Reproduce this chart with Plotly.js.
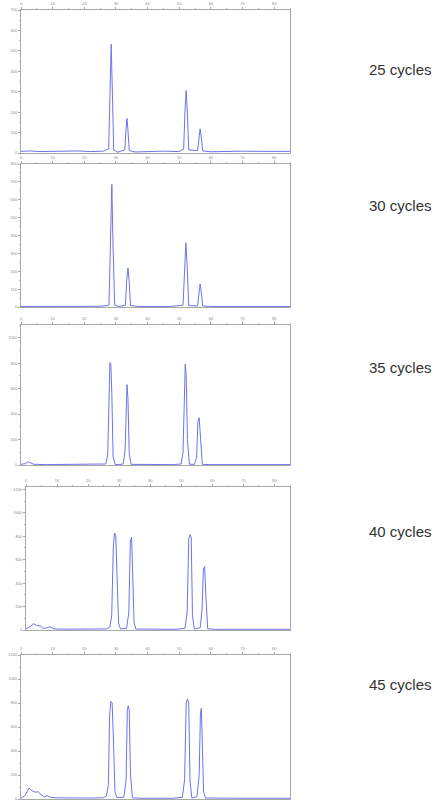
<!DOCTYPE html>
<html>
<head>
<meta charset="utf-8">
<script src="https://cdn.plot.ly/plotly-3.0.1.min.js"></script>
<style>html,body{margin:0;padding:0;background:#fff;}#chart{width:440px;height:802px;}</style>
</head>
<body>
<div id="chart"></div>
<script>
// Panel labels
const cycleLabels = ["25 cycles", "30 cycles", "35 cycles", "40 cycles", "45 cycles"];

// Trace 1: 25 cycles
const x25 = [0, 3, 6, 10, 14, 18, 22, 26, 27.7, 28.1, 28.5, 28.9, 29.3, 30.5, 32.8, 33.2, 33.5, 33.8, 34.2, 36, 40, 45, 50, 51.4, 51.8, 52.2, 52.6, 53.0, 55.8, 56.2, 56.6, 57.0, 57.4, 60, 65, 70, 75, 80, 85];
const y25 = [8, 10, 7, 9, 8, 10, 7, 9, 20, 300, 532, 280, 15, 4, 15, 120, 169, 110, 12, 5, 8, 9, 7, 20, 200, 306, 190, 15, 12, 80, 118, 75, 10, 6, 8, 9, 8, 9, 8];

// Trace 2: 30 cycles
const x30 = [0, 5, 10, 15, 20, 25, 27.8, 28.3, 28.7, 29.1, 29.6, 31, 33.0, 33.4, 33.8, 34.2, 34.6, 37, 42, 47, 51.2, 51.7, 52.1, 52.5, 53.0, 55.8, 56.2, 56.6, 57.0, 57.4, 60, 65, 70, 75, 80, 85];
const y30 = [3, 4, 3, 4, 3, 4, 10, 350, 686, 330, 10, 3, 10, 150, 218, 140, 8, 3, 4, 3, 10, 240, 360, 230, 8, 6, 90, 129, 80, 6, 3, 4, 3, 4, 3, 3];

// Trace 3: 35 cycles
const x35 = [0, 1.5, 2.2, 3.0, 4, 8, 12, 16, 20, 24, 26.8, 27.4, 27.8, 28.1, 28.4, 28.7, 29.1, 29.7, 31, 32.3, 32.9, 33.3, 33.5, 33.8, 34.2, 34.8, 38, 43, 48, 50.6, 51.2, 51.6, 51.9, 52.2, 52.6, 53.2, 54.8, 55.5, 55.9, 56.3, 56.7, 57.3, 60, 65, 70, 75, 80, 85];
const y35 = [5, 12, 26, 15, 6, 3, 4, 3, 4, 3, 8, 80, 560, 805, 790, 560, 70, 5, 3, 8, 120, 560, 631, 520, 90, 5, 3, 4, 3, 8, 100, 600, 792, 700, 200, 6, 5, 60, 340, 371, 250, 5, 3, 4, 3, 4, 3, 3];

// Trace 4: 40 cycles
const x40 = [0, 1.2, 2.3, 3.4, 4.6, 5.5, 6.6, 7.7, 8.8, 10, 14, 18, 22, 26, 27.0, 27.6, 28.1, 28.5, 28.9, 29.3, 29.8, 30.4, 32.4, 33.1, 33.6, 34.0, 34.4, 34.8, 35.4, 38, 43, 48, 51.2, 51.9, 52.4, 52.8, 53.2, 53.6, 54.2, 56.1, 56.7, 57.1, 57.5, 57.9, 58.5, 61, 66, 71, 76, 81, 85];
const y40 = [12, 25, 54, 40, 35, 14, 18, 28, 12, 8, 7, 9, 7, 9, 25, 120, 700, 826, 810, 500, 60, 10, 15, 150, 760, 791, 400, 60, 8, 6, 7, 6, 15, 160, 780, 814, 790, 120, 8, 20, 180, 520, 540, 300, 10, 6, 7, 6, 7, 6, 6];

// Trace 5: 45 cycles
const x45 = [0, 1.3, 2.5, 3.4, 4.4, 5.4, 6.4, 7.4, 8.2, 9.2, 11, 14, 18, 22, 26, 27.0, 27.6, 28.0, 28.4, 28.8, 29.2, 29.7, 30.3, 32.5, 33.2, 33.6, 33.9, 34.2, 34.6, 35.2, 38, 43, 48, 51.0, 51.7, 52.2, 52.6, 53.0, 53.4, 54.0, 55.6, 56.3, 56.7, 57.0, 57.3, 57.7, 58.3, 61, 66, 71, 76, 81, 85];
const y45 = [8, 30, 91, 70, 57, 60, 35, 18, 29, 15, 10, 8, 10, 8, 10, 25, 120, 700, 814, 800, 500, 60, 12, 15, 150, 740, 777, 740, 200, 10, 6, 7, 6, 15, 160, 800, 834, 800, 150, 8, 20, 200, 720, 757, 400, 60, 8, 6, 7, 6, 7, 6, 6];

const yMax = [700, 800, 1100, 1220, 1200];
const yDtick = [100, 100, 200, 200, 200];

const xs = [x25, x30, x35, x40, x45];
const ys = [y25, y30, y35, y40, y45];

// layout geometry (pixels)
const W = 440, H = 802;
const panels = [
  {l: 21, r: 290, t: 10, b: 153},
  {l: 21, r: 290, t: 164, b: 307},
  {l: 21, r: 290, t: 325, b: 465},
  {l: 26, r: 290, t: 487, b: 630},
  {l: 21, r: 290, t: 655, b: 799}
];
const labelY = [69, 205, 367, 531, 684];

const traces = [];
const layout = {
  width: W, height: H,
  margin: {l: 0, r: 0, t: 0, b: 0},
  paper_bgcolor: '#ffffff', plot_bgcolor: '#ffffff',
  showlegend: false,
  annotations: []
};

for (let i = 0; i < 5; i++) {
  const n = i === 0 ? '' : String(i + 1);
  const p = panels[i];
  traces.push({
    x: xs[i], y: ys[i], type: 'scatter', mode: 'lines',
    xaxis: 'x' + n, yaxis: 'y' + n,
    line: {color: '#7272ea', width: 1}, hoverinfo: 'skip'
  });
  const axCommon = {
    showline: true, mirror: true, linecolor: '#a8a8a8', linewidth: 1,
    showgrid: false, zeroline: false,
    ticks: 'outside', ticklen: 2, tickcolor: '#a8a8a8',
    tickfont: {size: 4, color: '#8a8a8a', family: 'Liberation Sans'}
  };
  layout['xaxis' + n] = Object.assign({}, axCommon, {
    domain: [p.l / W, p.r / W],
    anchor: 'y' + n, side: 'top',
    range: [0, 85], dtick: 10, tick0: 0,
    minor: {dtick: 5, ticks: 'outside', ticklen: 1, tickcolor: '#b8b8b8'}
  });
  layout['yaxis' + n] = Object.assign({}, axCommon, {
    domain: [1 - p.b / H, 1 - p.t / H],
    anchor: 'x' + n,
    range: [0, yMax[i]], dtick: yDtick[i], tick0: 0,
    minor: {dtick: yDtick[i] / 2, ticks: 'outside', ticklen: 1, tickcolor: '#b8b8b8'}
  });
  layout.annotations.push({
    text: cycleLabels[i], xref: 'paper', yref: 'paper',
    x: 367 / W, y: 1 - labelY[i] / H, xanchor: 'left', yanchor: 'middle',
    showarrow: false,
    font: {size: 15, color: '#333333', family: '"Liberation Sans Narrow", "Liberation Sans", Arial, sans-serif'}
  });
}

Plotly.newPlot('chart', traces, layout, {staticPlot: true, displayModeBar: false});
</script>
</body>
</html>
